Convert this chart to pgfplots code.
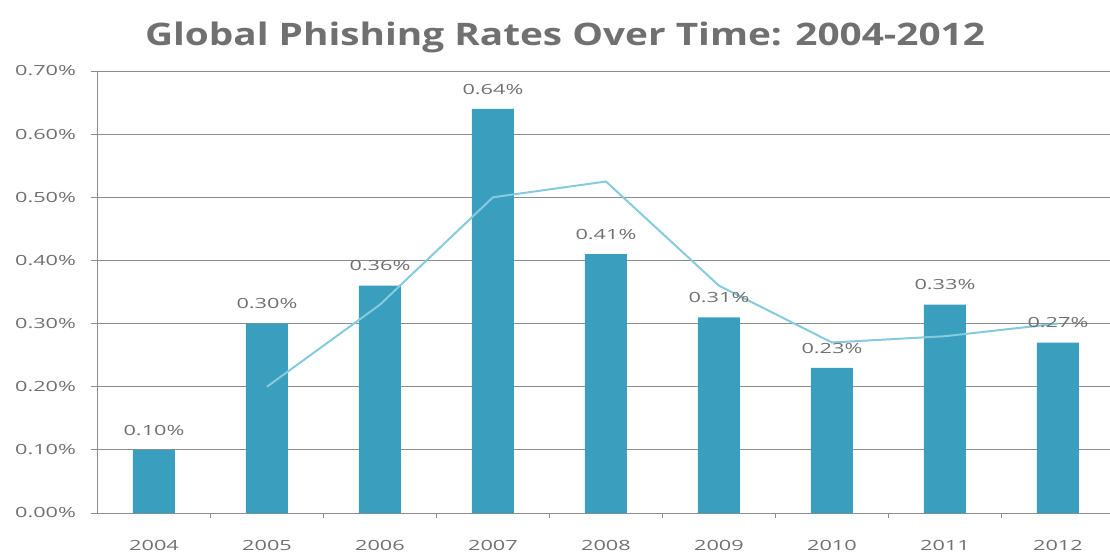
\documentclass[border=0pt]{standalone}
\usepackage{pgfplots}
\pgfplotsset{compat=1.18}
\usepackage{fontspec}
\setmainfont{Open Sans}[FakeStretch=1.55]
\newfontfamily\titlefont{Open Sans}[FakeStretch=1.25]
\definecolor{barc}{HTML}{3A9FBF}
\definecolor{linec}{HTML}{86CADD}
\definecolor{txt}{HTML}{707070}
\definecolor{gridc}{HTML}{8C8C8C}
\begin{document}
\begin{tikzpicture}
\useasboundingbox (-97.5bp,-43bp) rectangle (1012.5bp,513bp);
\begin{axis}[
  at={(0,0)}, anchor=south west,
  width=1012.5bp, height=442bp, scale only axis,
  xmin=-0.5, xmax=8.46, ymin=0, ymax=0.7,
  axis lines*=left,
  axis line style={gridc, line width=1pt},
  ymajorgrids, grid style={gridc, line width=0.9pt},
  ytick={0,0.1,0.2,0.3,0.4,0.5,0.6,0.7},
  yticklabels={0.00\%,0.10\%,0.20\%,0.30\%,0.40\%,0.50\%,0.60\%,0.70\%},
  xtick={0,1,2,3,4,5,6,7,8},
  xticklabels={2004,2005,2006,2007,2008,2009,2010,2011,2012},
  minor xtick={0.5,1.5,2.5,3.5,4.5,5.5,6.5,7.5},
  x tick style={draw=none},
  minor x tick style={draw=gridc, line width=0.8pt},
  minor tick length=5bp,
  y tick style={gridc, line width=0.8pt},
  major tick length=6bp,
  tick align=outside,
  ticklabel style={font=\fontsize{14bp}{16bp}\selectfont, text=txt},
  xticklabel style={yshift=-18bp},
  yticklabel style={xshift=-12bp},
  clip=false,
]
\addplot[ybar, bar width=42bp, fill=barc, draw=none,
  nodes near coords={\pgfmathprintnumber[fixed,fixed zerofill,precision=2,assume math mode=true]{\pgfplotspointmeta}\%},
  nodes near coords style={font=\fontsize{14bp}{16bp}\selectfont, text=txt, yshift=11bp},
  point meta=y]
  coordinates {(0,0.10) (1,0.30) (2,0.36) (3,0.64) (4,0.41) (5,0.31) (6,0.23) (7,0.33) (8,0.27)};
\addplot[linec, line width=2pt, mark=none]
  coordinates {(1,0.20) (2,0.33) (3,0.50) (4,0.525) (5,0.36) (6,0.27) (7,0.28) (8,0.30)};
\end{axis}
\node[font=\titlefont\bfseries\fontsize{31bp}{35bp}\selectfont, text=txt] at (467.5bp,476bp) {Global Phishing Rates Over Time: 2004-2012};
\end{tikzpicture}
\end{document}
